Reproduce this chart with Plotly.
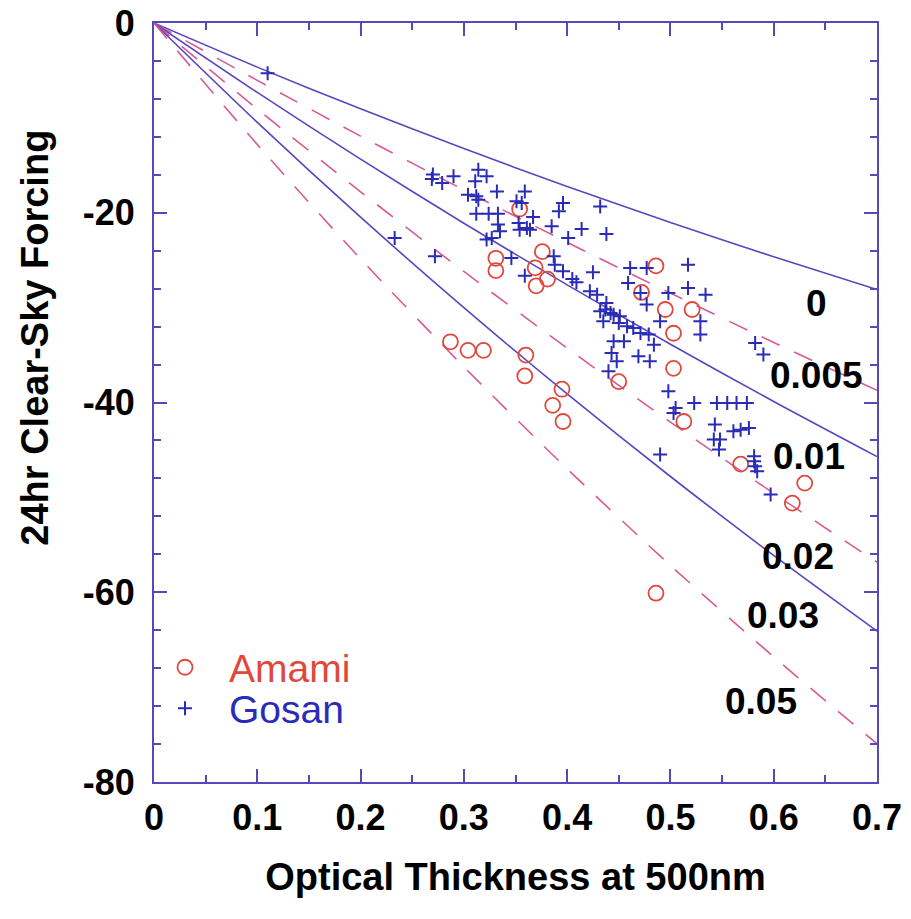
import plotly.graph_objects as go

# ---------------- data ----------------
TAU_GRID = [0.0, 0.1, 0.2, 0.3, 0.4, 0.5, 0.6, 0.7]

CURVE_LABELS = ["0", "0.005", "0.01", "0.02", "0.03", "0.05"]
CURVE_0 = [0.0, -4.65, -9.05, -13.24, -17.23, -21.02, -24.64, -28.10]
CURVE_0005 = [0.0, -6.05, -11.92, -17.60, -23.12, -28.47, -33.67, -38.71]
CURVE_001 = [0.0, -7.32, -14.35, -21.11, -27.60, -33.86, -39.89, -45.70]
CURVE_002 = [0.0, -9.07, -17.79, -26.19, -34.27, -42.06, -49.58, -56.83]
CURVE_003 = [0.0, -10.48, -20.47, -30.00, -39.10, -47.80, -56.12, -64.10]
CURVE_005 = [0.0, -12.80, -24.86, -36.24, -46.99, -57.17, -66.81, -75.97]
CURVES = [CURVE_0, CURVE_0005, CURVE_001, CURVE_002, CURVE_003, CURVE_005]

AMAMI_TAU = [0.354, 0.376, 0.331, 0.331, 0.369, 0.381, 0.370, 0.486, 0.472,
             0.495, 0.521, 0.503, 0.503, 0.450, 0.395, 0.386, 0.396, 0.287,
             0.304, 0.319, 0.360, 0.359, 0.513, 0.568, 0.630, 0.618, 0.486]
AMAMI_FORCING = [-19.6, -24.1, -24.8, -26.1, -25.8, -27.0, -27.7, -25.6, -28.4,
                 -30.2, -30.2, -32.7, -36.4, -37.8, -38.6, -40.3, -42.0, -33.6,
                 -34.5, -34.5, -35.0, -37.2, -42.0, -46.5, -48.5, -50.6, -60.1]

GOSAN_TAU = [0.110, 0.233,
             0.270, 0.269, 0.279, 0.290, 0.314, 0.322, 0.311, 0.332, 0.304, 0.312,
             0.314, 0.359, 0.351, 0.356, 0.396, 0.392, 0.432, 0.312, 0.324, 0.333,
             0.333, 0.335, 0.322, 0.327, 0.353, 0.354, 0.361, 0.364, 0.367, 0.385,
             0.414, 0.438, 0.401, 0.272, 0.346, 0.387, 0.388, 0.396, 0.359, 0.405,
             0.409, 0.425, 0.422, 0.429, 0.438, 0.432, 0.437, 0.442, 0.435, 0.445,
             0.451, 0.450, 0.458, 0.464, 0.471, 0.479, 0.461, 0.477, 0.459, 0.471,
             0.477, 0.490, 0.445, 0.455, 0.443, 0.448, 0.469, 0.480, 0.484, 0.440,
             0.498, 0.517, 0.517, 0.534, 0.529, 0.529, 0.582, 0.590, 0.498, 0.505,
             0.503, 0.523, 0.545, 0.555, 0.564, 0.574, 0.543, 0.542, 0.548, 0.547,
             0.561, 0.568, 0.576, 0.581, 0.582, 0.584, 0.581, 0.490, 0.597]
GOSAN_FORCING = [-5.3, -22.66,
                 -15.98, -16.44, -16.86, -16.16, -15.46, -16.16, -16.69, -17.75, -18.09, -18.27,
                 -18.62, -17.75, -18.80, -18.97, -18.97, -19.85, -19.33, -20.10, -20.10, -20.10,
                 -21.25, -21.96, -22.83, -22.66, -21.07, -21.78, -21.60, -21.78, -20.44, -21.43,
                 -21.71, -22.23, -22.66, -24.59, -24.76, -24.59, -25.47, -26.17, -26.63, -26.98,
                 -27.33, -26.28, -28.28, -28.63, -29.50, -30.39, -30.21, -30.56, -31.44, -30.74,
                 -30.91, -31.61, -31.97, -32.14, -32.67, -32.84, -25.82, -25.82, -27.40, -28.45,
                 -29.68, -31.44, -33.55, -33.55, -34.77, -35.66, -35.13, -35.66, -33.90, -36.71,
                 -28.45, -25.47, -27.93, -28.63, -31.44, -32.84, -33.72, -34.95, -38.82, -40.57,
                 -41.10, -40.04, -40.04, -40.04, -40.04, -40.04, -42.33, -43.91, -43.91, -44.96,
                 -43.03, -42.86, -42.68, -46.20, -46.72, -47.25, -45.67, -45.49, -49.71]

X_TICK_VALUES = [0.0, 0.1, 0.2, 0.3, 0.4, 0.5, 0.6, 0.7]
X_TICK_TEXT = ["0", "0.1", "0.2", "0.3", "0.4", "0.5", "0.6", "0.7"]
Y_TICK_VALUES = [0, -20, -40, -60, -80]
Y_TICK_TEXT = ["0", "-20", "-40", "-60", "-80"]
X_TITLE = "Optical Thickness at 500nm"
Y_TITLE = "24hr Clear-Sky Forcing"

# ---------------- styling ----------------
AXIS_COLOR = "#5548b8"
SOLID_COLOR = "#5a46c0"
DASH_COLOR = "#d85a92"
AMAMI_COLOR = "#e0483c"
GOSAN_COLOR = "#2a2cb8"
FONT = "Liberation Sans, Arial, Helvetica, sans-serif"
CURVE_DASH = ["solid", "20px,16px", "solid", "20px,16px", "solid", "20px,16px"]
# label anchor positions (data coordinates) for the curve labels
LABEL_POS = [(0.6415, -29.6), (0.6419, -37.2), (0.6345, -45.7),
             (0.6232, -56.2), (0.6087, -62.5), (0.588, -71.5)]

fig = go.Figure()

for ys, dash in zip(CURVES, CURVE_DASH):
    fig.add_trace(go.Scatter(
        x=TAU_GRID, y=ys, mode="lines",
        line=dict(color=SOLID_COLOR if dash == "solid" else DASH_COLOR,
                  width=1.6, dash=dash, shape="spline", smoothing=0.8),
        showlegend=False, hoverinfo="skip"))

fig.add_trace(go.Scatter(
    x=AMAMI_TAU, y=AMAMI_FORCING, mode="markers", name="Amami",
    marker=dict(symbol="circle-open", size=15, color=AMAMI_COLOR,
                line=dict(width=1.8, color=AMAMI_COLOR)),
    legend="legend"))

fig.add_trace(go.Scatter(
    x=GOSAN_TAU, y=GOSAN_FORCING, mode="markers", name="Gosan",
    marker=dict(symbol="cross-thin", size=10, color=GOSAN_COLOR,
                line=dict(width=2, color=GOSAN_COLOR)),
    legend="legend2"))

for text, (lx, ly) in zip(CURVE_LABELS, LABEL_POS):
    fig.add_annotation(x=lx, y=ly, xref="x", yref="y", text=text,
                       showarrow=False,
                       font=dict(family=FONT, size=37, color="black", weight="bold"))

# y-axis title (as an annotation so it can sit above centre, as in the reference)
fig.add_annotation(x=-0.165, y=0.585, xref="paper", yref="paper", text=Y_TITLE,
                   textangle=-90, showarrow=False, xanchor="center", yanchor="middle",
                   font=dict(family=FONT, size=38, color="black", weight="bold"))

axis_common = dict(
    showline=True, linecolor=AXIS_COLOR, linewidth=2, mirror="ticks",
    ticks="inside", tickcolor=AXIS_COLOR, tickwidth=2, ticklen=13,
    showgrid=False, zeroline=False, automargin=False,
    tickfont=dict(family=FONT, size=36, color="black", weight="bold"),
)

fig.update_layout(
    width=911, height=919,
    margin=dict(l=154, r=34, t=23, b=137),
    paper_bgcolor="white", plot_bgcolor="white",
    xaxis=dict(range=[0, 0.7], tickvals=X_TICK_VALUES, ticktext=X_TICK_TEXT,
               ticklabelstandoff=3,
               minor=dict(dtick=0.05, tick0=0, ticks="inside", ticklen=7,
                          tickcolor=AXIS_COLOR, tickwidth=2),
               title=dict(text=X_TITLE, standoff=26,
                          font=dict(family=FONT, size=38, color="black", weight="bold")),
               **axis_common),
    yaxis=dict(range=[-80, 0], tickvals=Y_TICK_VALUES, ticktext=Y_TICK_TEXT,
               ticklabelstandoff=10,
               minor=dict(dtick=4, tick0=0, ticks="inside", ticklen=7,
                          tickcolor=AXIS_COLOR, tickwidth=2),
               **axis_common),
    legend=dict(x=-0.018, y=0.151, xanchor="left", yanchor="middle",
                bgcolor="rgba(0,0,0,0)", itemwidth=78,
                font=dict(family=FONT, size=39, color=AMAMI_COLOR)),
    legend2=dict(x=-0.018, y=0.097, xanchor="left", yanchor="middle",
                 bgcolor="rgba(0,0,0,0)", itemwidth=78,
                 font=dict(family=FONT, size=39, color=GOSAN_COLOR)),
)

fig.write_html("out.html",
               config={"displayModeBar": False},
               post_script="document.body.style.margin='0px';"
                           "document.body.style.overflow='hidden';")
